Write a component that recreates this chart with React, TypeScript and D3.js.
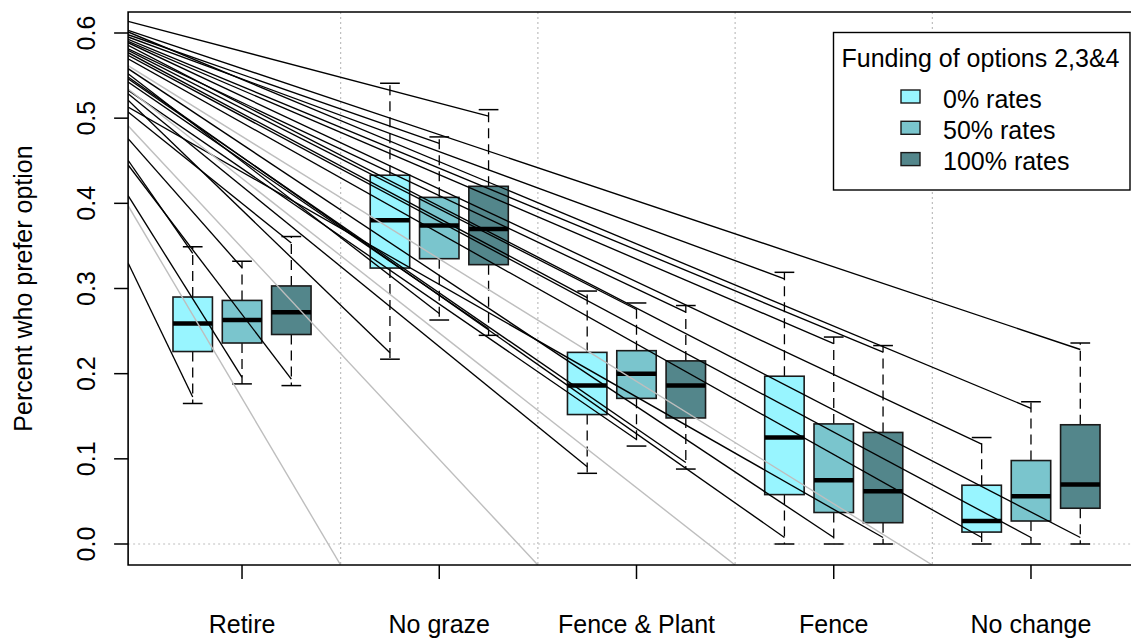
import React from "react";
import * as d3 from "d3";

// Options on the x axis and funding scenarios within each option
const categories = ["Retire", "No graze", "Fence & Plant", "Fence", "No change"];
const fundingLevels = ["0% rates", "50% rates", "100% rates"];
const fundingColors = ["#98F5FF", "#7AC5CD", "#53868B"];

// Five-number summaries [lower whisker, Q1, median, Q3, upper whisker], one row per option
const rates0 = [
  [0.165, 0.226, 0.259, 0.29, 0.349],
  [0.217, 0.324, 0.38, 0.433, 0.541],
  [0.083, 0.152, 0.186, 0.225, 0.297],
  [0.0, 0.058, 0.125, 0.197, 0.319],
  [0.0, 0.014, 0.027, 0.069, 0.125],
];
const rates50 = [
  [0.188, 0.236, 0.263, 0.286, 0.332],
  [0.263, 0.335, 0.374, 0.407, 0.478],
  [0.115, 0.171, 0.2, 0.227, 0.283],
  [0.0, 0.037, 0.075, 0.141, 0.243],
  [0.0, 0.027, 0.056, 0.098, 0.167],
];
const rates100 = [
  [0.186, 0.246, 0.272, 0.303, 0.361],
  [0.245, 0.328, 0.37, 0.42, 0.51],
  [0.088, 0.148, 0.186, 0.215, 0.28],
  [0.0, 0.025, 0.062, 0.131, 0.233],
  [0.0, 0.042, 0.07, 0.14, 0.236],
];
const summaries = [rates0, rates50, rates100];

const yTicks = [0, 0.1, 0.2, 0.3, 0.4, 0.5, 0.6];

// Lines from the left axis to a whisker end: start value, option, funding level, whisker end
const trendLines = [
  { from: 0.6137, cat: 1, grp: 2, end: "hi" },
  { from: 0.6031, cat: 4, grp: 2, end: "hi" },
  { from: 0.6012, cat: 4, grp: 1, end: "hi" },
  { from: 0.598, cat: 1, grp: 1, end: "hi" },
  { from: 0.5953, cat: 3, grp: 0, end: "hi" },
  { from: 0.5926, cat: 3, grp: 2, end: "hi" },
  { from: 0.5902, cat: 3, grp: 1, end: "hi" },
  { from: 0.5886, cat: 4, grp: 0, end: "hi" },
  { from: 0.5855, cat: 4, grp: 2, end: "lo" },
  { from: 0.5815, cat: 2, grp: 2, end: "hi" },
  { from: 0.5797, cat: 2, grp: 1, end: "hi" },
  { from: 0.5769, cat: 2, grp: 0, end: "hi" },
  { from: 0.5738, cat: 4, grp: 1, end: "lo" },
  { from: 0.5698, cat: 4, grp: 0, end: "lo" },
  { from: 0.5581, cat: 3, grp: 1, end: "lo" },
  { from: 0.5522, cat: 1, grp: 1, end: "lo" },
  { from: 0.5483, cat: 3, grp: 0, end: "lo" },
  { from: 0.5463, cat: 2, grp: 2, end: "lo" },
  { from: 0.5424, cat: 1, grp: 2, end: "lo" },
  { from: 0.5327, cat: 2, grp: 1, end: "lo" },
  { from: 0.5287, cat: 2, grp: 0, end: "lo" },
  { from: 0.521, cat: 1, grp: 0, end: "lo" },
  { from: 0.5131, cat: 3, grp: 2, end: "lo" },
  { from: 0.5072, cat: 0, grp: 2, end: "hi" },
  { from: 0.4759, cat: 0, grp: 1, end: "hi" },
  { from: 0.4505, cat: 0, grp: 0, end: "hi" },
  { from: 0.445, cat: 0, grp: 2, end: "lo" },
  { from: 0.409, cat: 0, grp: 1, end: "lo" },
  { from: 0.3299, cat: 0, grp: 0, end: "lo" },
];

// Grey lines: start value on the left axis, divider they run down to
const fadedStarts = [0.5616, 0.5342, 0.4911, 0.3972];
const fadedDividers = [4, 3, 2, 1];

const W = 1131;
const H = 640;
const FONT = "'Liberation Sans', Arial, Helvetica, sans-serif";

const x = d3.scaleLinear().domain([0, 20]).range([143.4, 1129.6]);
const y = d3.scaleLinear().domain([0, 0.6]).range([544, 33]);
const X_LIMITS = [-0.31, 20.31];
const Y_LIMITS = [-0.0247, 0.6247];

const plotLeft = x(X_LIMITS[0]);
const plotRight = x(X_LIMITS[1]);
const plotTop = y(Y_LIMITS[1]);
const plotBottom = y(Y_LIMITS[0]);

const BOX_WIDTH = 0.8;
const CAP_WIDTH = 0.4;
const END_INSET = 6.5;

const position = (cat: number, grp: number) => cat * 4 + grp + 1;

export default function App() {
  const boxes = [] as React.ReactNode[];
  categories.forEach((_, c) => {
    fundingLevels.forEach((_, g) => {
      const [lo, q1, med, q3, hi] = summaries[g][c];
      const p = position(c, g);
      const cx = x(p);
      const bx0 = x(p - BOX_WIDTH / 2);
      const bx1 = x(p + BOX_WIDTH / 2);
      const cx0 = x(p - CAP_WIDTH / 2);
      const cx1 = x(p + CAP_WIDTH / 2);
      boxes.push(
        <g key={`b${c}-${g}`}>
          <line x1={cx} x2={cx} y1={y(q3)} y2={y(hi)} stroke="#000" strokeWidth={1.3} strokeDasharray="10,6" />
          <line x1={cx} x2={cx} y1={y(q1)} y2={y(lo)} stroke="#000" strokeWidth={1.3} strokeDasharray="10,6" />
          <line x1={cx0} x2={cx1} y1={y(hi)} y2={y(hi)} stroke="#000" strokeWidth={1.5} />
          <line x1={cx0} x2={cx1} y1={y(lo)} y2={y(lo)} stroke="#000" strokeWidth={1.5} />
          <rect x={bx0} y={y(q3)} width={bx1 - bx0} height={y(q1) - y(q3)} fill={fundingColors[g]} stroke="#1a1a1a" strokeWidth={1.6} />
          <line x1={bx0} x2={bx1} y1={y(med)} y2={y(med)} stroke="#000" strokeWidth={4.5} />
        </g>
      );
    });
  });

  const trends = trendLines.map((t, i) => {
    const s = summaries[t.grp][t.cat];
    const endY = t.end === "hi" ? y(s[4]) + END_INSET : y(s[0]) - END_INSET;
    return (
      <line key={`t${i}`} x1={plotLeft} y1={y(t.from)} x2={x(position(t.cat, t.grp))} y2={endY} stroke="#000" strokeWidth={1.35} />
    );
  });

  const faded = fadedStarts.map((v, i) => (
    <line key={`f${i}`} x1={plotLeft} y1={y(v)} x2={x(fadedDividers[i] * 4)} y2={plotBottom} stroke="#BEBEBE" strokeWidth={1.4} />
  ));

  return (
    <svg width={W} height={H} style={{ position: "absolute", left: 0, top: 0, background: "#fff" }} fontFamily={FONT}>
      <defs>
        <clipPath id="plot-area">
          <rect x={plotLeft} y={plotTop} width={plotRight - plotLeft} height={plotBottom - plotTop} />
        </clipPath>
      </defs>
      <rect x={0} y={0} width={W} height={H} fill="#fff" />

      {/* dotted reference lines */}
      <g clipPath="url(#plot-area)">
        {[4, 8, 12, 16].map((d) => (
          <line key={`v${d}`} x1={x(d)} x2={x(d)} y1={plotTop} y2={plotBottom} stroke="#BEBEBE" strokeWidth={1.2} strokeDasharray="2,3" />
        ))}
        <line x1={plotLeft} x2={plotRight} y1={y(0)} y2={y(0)} stroke="#BEBEBE" strokeWidth={1.2} strokeDasharray="2,3" />
      </g>

      {boxes}

      <g clipPath="url(#plot-area)">
        {trends}
        {faded}
      </g>

      {/* frame */}
      <path d={`M${plotRight},${plotTop}H${plotLeft}V${plotBottom}H${plotRight}`} fill="none" stroke="#000" strokeWidth={1.6} />

      {/* y axis */}
      {yTicks.map((t) => (
        <g key={`yt${t}`}>
          <line x1={plotLeft - 14} x2={plotLeft} y1={y(t)} y2={y(t)} stroke="#000" strokeWidth={1.5} />
          <text transform={`translate(95,${y(t)}) rotate(-90)`} textAnchor="middle" fontSize={25} fill="#000">
            {d3.format(".1f")(t)}
          </text>
        </g>
      ))}
      <text transform={`translate(32,${(plotTop + plotBottom) / 2}) rotate(-90)`} textAnchor="middle" fontSize={25} fill="#000">
        Percent who prefer option
      </text>

      {/* x axis */}
      {categories.map((c, i) => (
        <g key={`xt${c}`}>
          <line x1={x(position(i, 1))} x2={x(position(i, 1))} y1={plotBottom} y2={plotBottom + 14} stroke="#000" strokeWidth={1.5} />
          <text x={x(position(i, 1))} y={633} textAnchor="middle" fontSize={25} fill="#000">
            {c}
          </text>
        </g>
      ))}

      {/* legend */}
      <g>
        <rect x={833.5} y={32.5} width={296.5} height={157.5} fill="#fff" stroke="#000" strokeWidth={1.4} />
        <text x={841.5} y={66.5} fontSize={25} fill="#000">
          Funding of options 2,3&amp;4
        </text>
        {fundingLevels.map((f, i) => (
          <g key={`lg${f}`}>
            <rect x={901} y={90 + i * 31.3} width={19} height={13} fill={fundingColors[i]} stroke="#1a1a1a" strokeWidth={1.4} />
            <text x={943} y={108.3 + i * 31} fontSize={25} fill="#000">
              {f}
            </text>
          </g>
        ))}
      </g>
    </svg>
  );
}
